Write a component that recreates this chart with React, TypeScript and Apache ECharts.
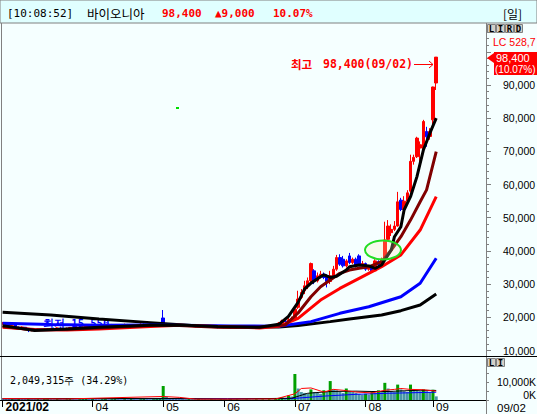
import { useEffect, useRef } from "react";
import * as echarts from "echarts";

// ---- trading days (2021) ----
const febDays = [19, 22, 23, 24, 25, 26];
const marDays = [2, 3, 4, 5, 8, 9, 10, 11, 12, 15, 16, 17, 18, 19, 22, 23, 24, 25, 26, 29, 30, 31];
const aprDays = [1, 2, 5, 6, 7, 8, 9, 12, 13, 14, 15, 16, 19, 20, 21, 22, 23, 26, 27, 28, 29, 30];
const mayDays = [3, 4, 6, 7, 10, 11, 12, 13, 14, 17, 18, 20, 21, 24, 25, 26, 27, 28, 31];
const junDays = [1, 2, 3, 4, 7, 8, 9, 10, 11, 14, 15, 16, 17, 18, 21, 22, 23, 24, 25, 28, 29, 30];
const julDays = [1, 2, 5, 6, 7, 8, 9, 12, 13, 14, 15, 16, 19, 20, 21, 22, 23, 26, 27, 28, 29, 30];
const augDays = [2, 3, 4, 5, 6, 9, 10, 11, 12, 13, 17, 18, 19, 20, 23, 24, 25, 26, 27, 30, 31];
const sepDays = [1, 2];

// month tick labels on the date axis
const monthTickDates = ["2021/02/19", "2021/04/01", "2021/05/03", "2021/06/01", "2021/07/01", "2021/08/02", "2021/09/01"];
const monthTickLabels = ["2021/02", "04", "05", "06", "07", "08", "09"];

// ---- daily candles [open, close, low, high] ----
const candles: number[][] = [
  // Feb
  [18000, 18300, 17800, 18600], [18300, 17900, 17700, 18400], [17900, 17600, 17400, 18000], [17600, 17800, 17300, 18000],
  [17800, 17200, 17000, 17900], [17000, 16800, 16500, 17200],
  // Mar
  [16900, 17100, 16700, 17300], [17000, 16500, 16300, 17100], [16400, 16000, 15550, 16500], [16000, 16300, 15800, 16500],
  [16300, 16100, 15900, 16500], [16100, 16400, 16000, 16600], [16400, 16200, 16000, 16500], [16200, 16500, 16100, 16700],
  [16500, 16300, 16100, 16700], [16300, 16600, 16200, 16800], [16600, 16500, 16300, 16900], [16500, 16800, 16400, 17000],
  [16800, 16600, 16400, 17000], [16600, 16400, 16200, 16800], [16400, 16700, 16300, 16900], [16700, 16900, 16500, 17100],
  [16900, 16700, 16500, 17100], [16700, 17000, 16600, 17200], [17000, 16800, 16600, 17200], [16800, 17100, 16700, 17300],
  [17100, 17300, 16900, 17500], [17300, 17100, 16900, 17500],
  // Apr
  [17100, 17400, 17000, 17600], [17400, 17200, 17000, 17600], [17200, 17500, 17100, 17700], [17500, 17300, 17100, 17700],
  [17300, 17600, 17200, 17900], [17600, 17400, 17200, 17800], [17400, 17700, 17300, 18000], [17700, 17500, 17300, 17900],
  [17500, 17300, 17100, 17700], [17300, 17600, 17200, 17800], [17600, 17800, 17400, 18100], [17800, 17500, 17400, 18000],
  [17500, 17700, 17400, 17900], [17700, 17400, 17300, 17900], [17400, 17600, 17300, 17800], [17600, 17900, 17500, 18200],
  [17900, 17700, 17500, 18100], [17700, 17500, 17300, 17900], [17500, 17800, 17400, 18000], [17800, 17600, 17400, 18000],
  [17600, 17900, 17500, 18100], [17900, 18100, 17700, 18400],
  // May
  [19800, 18000, 17800, 22200], [18000, 17700, 17500, 18300], [17700, 17900, 17500, 18100], [17900, 17600, 17400, 18000],
  [17600, 17800, 17400, 18000], [17800, 17500, 17300, 17900], [17500, 17700, 17300, 17900], [17700, 17400, 17200, 17800],
  [17400, 17300, 17100, 17600], [17300, 17500, 17200, 17700], [17500, 17200, 17000, 17600], [17200, 17400, 17100, 17600],
  [17400, 17100, 16900, 17500], [17100, 17300, 17000, 17500], [17300, 17000, 16800, 17400], [17000, 17200, 16900, 17400],
  [17200, 17100, 16900, 17400], [17100, 16900, 16700, 17300], [16900, 17100, 16800, 17300],
  // Jun
  [17100, 16900, 16700, 17200], [16900, 17100, 16800, 17300], [17100, 16800, 16600, 17200], [16800, 17000, 16700, 17200],
  [17000, 16800, 16600, 17100], [16800, 17000, 16700, 17200], [17000, 16900, 16700, 17200], [16900, 17100, 16800, 17300],
  [17100, 16900, 16700, 17200], [16900, 17000, 16800, 17200], [17000, 16800, 16700, 17100], [16800, 17000, 16700, 17200],
  [17000, 17200, 16900, 17400], [17200, 17100, 16900, 17400], [17100, 17400, 17000, 17600], [17400, 17300, 17100, 17600],
  [17300, 17700, 17200, 17900], [17700, 18300, 17600, 18600], [18300, 18900, 18100, 19300], [18900, 18700, 18400, 19400],
  [18700, 19300, 18600, 19800], [19300, 19600, 19000, 20200],
  // Jul
  [19700, 22500, 19500, 23000], [23000, 25500, 22500, 28000], [26000, 27500, 25500, 28500], [28000, 29500, 27000, 31000],
  [29500, 31000, 28500, 32000], [31000, 36200, 30500, 36500], [34000, 31000, 30000, 34500], [31000, 32500, 30500, 33500],
  [32500, 33000, 31800, 34000], [33000, 32000, 31500, 33500], [32500, 30800, 29000, 33000], [30800, 32500, 30000, 34000],
  [32500, 34500, 32000, 35500], [34500, 38000, 34000, 38800], [38000, 36000, 35500, 39000], [37500, 35500, 35000, 38500],
  [35500, 37000, 35000, 37500], [38500, 36500, 36000, 39400], [36500, 37500, 36000, 38000], [37500, 35500, 35000, 38000],
  [38500, 35800, 35500, 39000], [35500, 36200, 35000, 37000],
  // Aug
  [36200, 34500, 34000, 36500], [34500, 35300, 34000, 35800], [35300, 33800, 33500, 35500], [34000, 37000, 33800, 37500],
  [36800, 35800, 35500, 37200], [35800, 37500, 35500, 38000], [37600, 43300, 37500, 48800], [43500, 47500, 43000, 49300],
  [45500, 46500, 44500, 48000], [46500, 47500, 46000, 49000], [47500, 54800, 47300, 57800], [55300, 52500, 52000, 56000],
  [52500, 55000, 52000, 56500], [55000, 57500, 54500, 58300], [58000, 67000, 57500, 69000], [67000, 68200, 66000, 69000],
  [68400, 74000, 68000, 74400], [71000, 72000, 66500, 73000], [70500, 79000, 70000, 79500], [76000, 74400, 71400, 77400],
  [74500, 76000, 73500, 77000],
  // Sep
  [79500, 89400, 77900, 89500], [90600, 98400, 88500, 98400],
];

// ---- daily volume (thousand shares) ----
const volumes = [
  900, 700, 600, 800, 700, 900,
  800, 700, 1100, 900, 600, 700, 500, 600, 800, 500, 400, 600, 500, 400, 500, 600, 500, 400, 500, 600, 700, 500,
  600, 500, 400, 500, 600, 400, 500, 700, 500, 400, 500, 400, 600, 500, 400, 500, 600, 500, 400, 500, 800, 1000,
  7900, 1800, 900, 700, 600, 500, 500, 400, 500, 400, 400, 500, 400, 400, 300, 400, 400, 300, 400,
  400, 300, 400, 300, 400, 300, 300, 400, 300, 300, 400, 300, 400, 300, 500, 400, 600, 800, 1500, 1200, 2500, 2000,
  14700, 6500, 4500, 4000, 3500, 6000, 4500, 4000, 3500, 5500, 4500, 10700, 6000, 5500, 4500, 4000, 6500, 5000, 4500, 4000, 3500, 3000,
  3500, 3000, 4500, 4000, 5500, 5000, 9700, 6500, 5000, 4500, 8700, 6000, 5000, 4500, 8700, 6000, 5500, 5000, 6000, 5000, 4500,
  5800, 2049,
];

// ---- price moving averages: [day index, value] ----
const ma5 = [[0, 17500], [10, 16000], [20, 16500], [30, 17000], [46, 17600], [55, 17700], [67, 17200], [80, 17000], [86, 17900], [89, 20300], [92, 24500], [94, 28500], [96, 30300], [99, 32200], [100, 32800], [102, 32000], [104, 32400], [107, 34260], [108, 35250], [111, 35760], [114, 35500], [116, 34770], [118, 35760], [119, 37270], [121, 40280], [122, 44290], [124, 47300], [125, 52330], [127, 56350], [129, 62400], [131, 70400], [133, 75400], [135, 80000]];
const ma10 = [[0, 17200], [10, 16200], [20, 16300], [30, 16800], [46, 17500], [55, 17500], [67, 17000], [80, 17000], [88, 17700], [92, 21300], [96, 26200], [99, 29200], [102, 31240], [105, 33260], [108, 34260], [111, 34770], [114, 35200], [118, 36760], [121, 40280], [124, 44300], [127, 49300], [130, 54840], [132, 58400], [135, 69900]];
const ma20 = [[0, 17000], [10, 16300], [20, 16200], [30, 16500], [46, 17200], [55, 17600], [67, 17200], [80, 16800], [86, 17300], [92, 19700], [99, 25200], [105, 28700], [111, 31750], [118, 35250], [124, 38800], [130, 46300], [135, 56350]];
const ma60 = [[0, 18200], [15, 17800], [30, 17600], [46, 17700], [61, 17500], [71, 17400], [86, 17300], [96, 18700], [105, 21200], [114, 23200], [124, 26200], [130, 30250], [135, 37800]];
const ma120 = [[0, 21500], [15, 20700], [30, 19500], [46, 18400], [61, 17400], [71, 17000], [86, 17100], [92, 17500], [102, 18700], [108, 19500], [118, 20700], [124, 22000], [130, 23700], [135, 27000]];

// ---- volume moving averages (thousand shares) ----
const vma5 = [[0, 800], [20, 600], [50, 2000], [55, 1500], [60, 500], [85, 600], [91, 3500], [93, 6500], [96, 6800], [100, 4500], [103, 6000], [106, 5500], [110, 4500], [115, 4000], [119, 5500], [122, 6000], [124, 6500], [127, 6000], [131, 5800], [135, 5000]];
const vma20 = [[0, 700], [50, 900], [70, 500], [90, 1000], [95, 3800], [102, 4800], [110, 5000], [115, 4800], [120, 4800], [125, 5200], [130, 5500], [135, 5400]];
const vma60 = [[0, 700], [50, 700], [70, 800], [90, 800], [100, 2200], [110, 3200], [120, 3800], [135, 4400]];

const priceLabels = [10000, 20000, 30000, 40000, 50000, 60000, 70000, 80000, 90000];
const RIGHT_PAD_DAYS = 15;

const W = 537;
const H = 414;

function pad2(n: number) {
  return n < 10 ? "0" + n : "" + n;
}

function buildOption() {
  const months: [number, number[]][] = [[2, febDays], [3, marDays], [4, aprDays], [5, mayDays], [6, junDays], [7, julDays], [8, augDays], [9, sepDays]];
  const dates: string[] = [];
  months.forEach(([m, days]) => days.forEach((d) => dates.push(`2021/${pad2(m)}/${pad2(d)}`)));
  const categories = [...dates];
  for (let k = 0; k < RIGHT_PAD_DAYS; k++) categories.push("");

  const tickIdx = monthTickDates.map((d) => dates.indexOf(d));
  const labelOf: Record<number, string> = {};
  tickIdx.forEach((ix, k) => (labelOf[ix] = monthTickLabels[k]));

  const minorTicks: number[] = [];
  for (let v = 10000; v <= 108000; v += 2000) minorTicks.push(v);

  const mono = "'DejaVu Sans Mono', monospace";
  const sans = "'Liberation Sans', Arial, sans-serif";
  const kr = "'Noto Sans CJK KR', sans-serif";

  // volume bars: green when volume rose from the previous day, teal otherwise
  const volData = volumes.map((v, i) => ({
    value: v,
    itemStyle: { color: i > 0 && v > volumes[i - 1] ? "#00A000" : "#4A98A8" },
  }));

  const line = (data: number[][], color: string, width: number, xi: number, yi: number, z: number) => ({
    type: "line",
    data,
    xAxisIndex: xi,
    yAxisIndex: yi,
    showSymbol: false,
    symbol: "none",
    silent: true,
    z,
    lineStyle: { color, width },
  });

  const P = 108380;
  const Pmin = 8343;

  return {
    animation: false,
    backgroundColor: "#F5FFFF",
    grid: [
      { left: 1, top: 24, width: 485, height: 332, outerBoundsMode: "none", containLabel: false },
      { left: 1, top: 357, width: 485, height: 43, outerBoundsMode: "none", containLabel: false },
    ],
    xAxis: [
      { type: "category", gridIndex: 0, data: categories, boundaryGap: true, show: false },
      {
        type: "category",
        gridIndex: 1,
        data: categories,
        boundaryGap: true,
        axisLine: { show: false },
        axisTick: {
          show: true,
          alignWithLabel: true,
          interval: (i: number) => labelOf[i] !== undefined,
          length: 7,
          lineStyle: { color: "#000", width: 1 },
        },
        axisLabel: {
          show: true,
          interval: (i: number) => labelOf[i] !== undefined,
          formatter: (_v: string, i: number) => (i === 0 ? `{b|${labelOf[i]}}` : labelOf[i] || ""),
          align: "left",
          padding: [0, 0, 0, 3],
          margin: 1,
          lineHeight: 12,
          color: "#000",
          fontFamily: sans,
          fontSize: 11.5,
          hideOverlap: false,
          rich: { b: { fontWeight: "bold", fontSize: 12, lineHeight: 12, fontFamily: sans, color: "#000" } },
        },
        splitLine: { show: false },
      },
    ],
    yAxis: [
      {
        type: "value",
        gridIndex: 0,
        position: "right",
        min: Pmin,
        max: P,
        axisLine: { show: false },
        splitLine: { show: false },
        axisTick: { show: true, customValues: priceLabels.concat([100000]), length: 5, lineStyle: { color: "#808080" } },
        axisLabel: {
          show: true,
          customValues: priceLabels,
          formatter: (v: number) => v.toLocaleString("en-US"),
          align: "left",
          margin: 17,
          color: "#000",
          fontFamily: sans,
          fontSize: 10.5,
        },
      },
      {
        type: "value",
        gridIndex: 0,
        position: "right",
        min: Pmin,
        max: P,
        axisLine: { show: false },
        splitLine: { show: false },
        axisTick: { show: true, customValues: minorTicks, length: 3, lineStyle: { color: "#808080" } },
        axisLabel: { show: false },
      },
      {
        type: "value",
        gridIndex: 1,
        position: "right",
        min: 0,
        max: 24300,
        axisLine: { show: false },
        splitLine: { show: false },
        axisTick: { show: true, customValues: [0, 5000, 10000, 15000, 20000], length: 3, lineStyle: { color: "#808080" } },
        axisLabel: {
          show: true,
          customValues: [10000],
          formatter: () => "10,000K",
          align: "right",
          margin: 50,
          color: "#000",
          fontFamily: sans,
          fontSize: 10.5,
        },
      },
      {
        type: "value",
        gridIndex: 1,
        position: "right",
        min: 0,
        max: 24300,
        axisLine: { show: false },
        splitLine: { show: false },
        axisTick: { show: false },
        axisLabel: {
          show: true,
          customValues: [0],
          formatter: () => "0K",
          align: "right",
          verticalAlign: "bottom",
          margin: 50,
          color: "#000",
          fontFamily: sans,
          fontSize: 10.5,
        },
      },
    ],
    series: [
      {
        type: "candlestick",
        xAxisIndex: 0,
        yAxisIndex: 0,
        data: candles,
        barWidth: 3,
        z: 2,
        silent: true,
        itemStyle: { color: "#FF0000", color0: "#0000FF", borderColor: "#FF0000", borderColor0: "#0000FF", borderWidth: 1 },
      },
      line(ma120, "#000000", 3, 0, 0, 3),
      line(ma60, "#0000FF", 3, 0, 0, 3),
      line(ma20, "#FF0000", 3, 0, 0, 3),
      line(ma10, "#800000", 3, 0, 0, 3),
      line(ma5, "#000000", 3, 0, 0, 4),
      {
        type: "bar",
        xAxisIndex: 1,
        yAxisIndex: 2,
        data: volData,
        barWidth: 3,
        silent: true,
        z: 2,
      },
      line(vma60, "#0000FF", 1, 1, 2, 3),
      line(vma20, "#000000", 1, 1, 2, 3),
      line(vma5, "#FF0000", 1, 1, 2, 3),
    ],
    graphic: [
      // low marker (behind the series)
      { type: "text", x: 43, y: 323, z: 0, style: { text: "최저 15,550", fill: "#0000FF", fontFamily: mono, fontSize: 10.5, fontWeight: "bold", textVerticalAlign: "middle" } },
      // title bar
      { type: "rect", z: 50, shape: { x: 0, y: 0, width: W, height: 23 }, style: { fill: "#E0FFFF", stroke: "#808080", lineWidth: 1 } },
      { type: "text", z: 51, x: 7, y: 13.5, style: { text: "[10:08:52]", fill: "#000", fontFamily: mono, fontSize: 11, textVerticalAlign: "middle" } },
      { type: "text", z: 51, x: 87, y: 13.5, style: { text: "바이오니아", fill: "#000", fontFamily: kr, fontSize: 12.5, textVerticalAlign: "middle" } },
      { type: "text", z: 51, x: 162, y: 13.5, style: { text: "98,400", fill: "#FF0000", fontFamily: mono, fontSize: 11, fontWeight: "bold", textVerticalAlign: "middle" } },
      { type: "text", z: 51, x: 215, y: 13.5, style: { text: "▲9,000", fill: "#FF0000", fontFamily: mono, fontSize: 11, fontWeight: "bold", textVerticalAlign: "middle" } },
      { type: "text", z: 51, x: 273, y: 13.5, style: { text: "10.07%", fill: "#FF0000", fontFamily: mono, fontSize: 11, fontWeight: "bold", textVerticalAlign: "middle" } },
      { type: "text", z: 51, x: 503, y: 13.5, style: { text: "[일]", fill: "#000", fontFamily: kr, fontSize: 12, textVerticalAlign: "middle" } },
      // frame lines
      { type: "line", z: 40, shape: { x1: 1.5, y1: 23, x2: 1.5, y2: 400 }, style: { stroke: "#808080", lineWidth: 1 } },
      { type: "line", z: 40, shape: { x1: 486.5, y1: 23, x2: 486.5, y2: 414 }, style: { stroke: "#808080", lineWidth: 1 } },
      { type: "line", z: 40, shape: { x1: 0, y1: 356.5, x2: W, y2: 356.5 }, style: { stroke: "#000", lineWidth: 1 } },
      { type: "line", z: 40, shape: { x1: 0, y1: 400.5, x2: 486, y2: 400.5 }, style: { stroke: "#000", lineWidth: 1 } },
      // LIRD buttons
      ...["L", "I", "R", "D"].map((t, k) => ({
        type: "group",
        z: 60,
        children: [
          { type: "rect", z: 60, shape: { x: 487.5 + k * 9, y: 24.5, width: 8, height: 8 }, style: { fill: "#D4D0C8", stroke: "#808080", lineWidth: 1 } },
          { type: "text", z: 61, x: 491.5 + k * 9, y: 29, style: { text: t, fill: "#000", fontFamily: mono, fontSize: 9, fontWeight: "bold", textAlign: "center", textVerticalAlign: "middle" } },
        ],
      })),
      ...["L", "I"].map((t, k) => ({
        type: "group",
        z: 60,
        children: [
          { type: "rect", z: 60, shape: { x: 487.5 + k * 9, y: 358.5, width: 8, height: 8 }, style: { fill: "#D4D0C8", stroke: "#808080", lineWidth: 1 } },
          { type: "text", z: 61, x: 491.5 + k * 9, y: 363, style: { text: t, fill: "#000", fontFamily: mono, fontSize: 9, fontWeight: "bold", textAlign: "center", textVerticalAlign: "middle" } },
        ],
      })),
      { type: "text", z: 51, x: 493, y: 41.5, style: { text: "LC 528,7", fill: "#FF0000", fontFamily: sans, fontSize: 10.5, textVerticalAlign: "middle" } },
      // current price box
      { type: "polygon", z: 70, shape: { points: [[487, 58], [494, 53], [494, 63]] }, style: { fill: "#FF0000" } },
      { type: "rect", z: 70, shape: { x: 494, y: 52, width: 45, height: 23 }, style: { fill: "#FF0000" } },
      { type: "text", z: 71, x: 496, y: 58, style: { text: "98,400", fill: "#FFFFFF", fontFamily: sans, fontSize: 11, textVerticalAlign: "middle" } },
      { type: "text", z: 71, x: 495, y: 69.5, style: { text: "(10.07%)", fill: "#FFFFFF", fontFamily: sans, fontSize: 10, textVerticalAlign: "middle" } },
      // high marker
      { type: "text", z: 20, x: 291, y: 64, style: { text: "최고", fill: "#FF0000", fontFamily: kr, fontSize: 11.5, fontWeight: "bold", textVerticalAlign: "middle" } },
      { type: "text", z: 20, x: 323, y: 64, style: { text: "98,400(09/02)", fill: "#FF0000", fontFamily: mono, fontSize: 11.5, fontWeight: "bold", textVerticalAlign: "middle" } },
      { type: "line", z: 20, shape: { x1: 414, y1: 64.5, x2: 433, y2: 64.5 }, style: { stroke: "#FF0000", lineWidth: 1 } },
      { type: "polyline", z: 20, shape: { points: [[429, 61], [433, 64.5], [429, 68]] }, style: { stroke: "#FF0000", lineWidth: 1, fill: null } },
      // annotation ellipse
      { type: "ellipse", z: 10, shape: { cx: 383, cy: 250, rx: 18, ry: 9.5 }, style: { fill: "rgba(255,235,180,0.25)", stroke: "#22DD22", lineWidth: 2 } },
      { type: "rect", z: 10, shape: { x: 176, y: 107, width: 3, height: 2 }, style: { fill: "#00DD00" } },
      // volume text
      { type: "text", z: 20, x: 10, y: 380, style: { text: "2,049,315주 (34.29%)", fill: "#000", fontFamily: mono, fontSize: 10, textVerticalAlign: "middle" } },
      // current date on the right
      { type: "text", z: 20, x: 497, y: 407.5, style: { text: "09/02", fill: "#000", fontFamily: sans, fontSize: 11.5, textVerticalAlign: "middle" } },
    ],
  };
}

export default function App() {
  const ref = useRef<HTMLDivElement>(null);
  useEffect(() => {
    if (!ref.current) return;
    const chart = echarts.init(ref.current, null, { renderer: "svg", width: W, height: H });
    chart.setOption(buildOption() as any);
    return () => chart.dispose();
  }, []);
  return <div ref={ref} style={{ position: "absolute", left: 0, top: 0, width: W, height: H }} />;
}
